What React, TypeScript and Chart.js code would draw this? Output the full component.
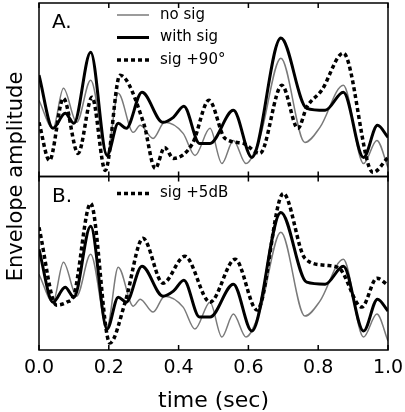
import React, { useEffect, useRef } from "react";
import { Chart, registerables } from "chart.js";

Chart.register(...registerables);

// ---- data (time in sec, envelope amplitude in arbitrary units) ----
const timeTicks = [0, 0.2, 0.4, 0.6, 0.8, 1.0];

const noSigTime = [0, 0.04, 0.07, 0.108, 0.148, 0.195, 0.227, 0.27, 0.29, 0.327, 0.36, 0.413, 0.447, 0.49, 0.524, 0.557, 0.593, 0.633, 0.693, 0.762, 0.805, 0.872, 0.93, 0.968, 1.0];
const noSigAmp = [7.6, 4.8, 8.8, 5.4, 9.6, 2.3, 8.3, 4.4, 5.1, 3.8, 5.4, 4.3, 2.1, 4.8, 1.3, 3.6, 1.3, 3.9, 11.8, 3.4, 4.9, 9.1, 1.3, 3.6, 0.9];

const withSigTime = [0, 0.04, 0.075, 0.1, 0.148, 0.195, 0.227, 0.25, 0.295, 0.355, 0.385, 0.415, 0.46, 0.49, 0.557, 0.61, 0.693, 0.767, 0.82, 0.872, 0.93, 0.97, 1.0];
const withSigAmp = [10.1, 4.8, 6.3, 5.3, 12.4, 2.1, 5.3, 4.8, 8.4, 5.4, 5.9, 7.0, 3.3, 3.3, 6.6, 1.9, 13.8, 6.8, 6.6, 8.4, 1.9, 5.1, 3.9];

const sig90Time = [0, 0.03, 0.07, 0.112, 0.152, 0.19, 0.232, 0.3, 0.333, 0.36, 0.385, 0.44, 0.487, 0.533, 0.585, 0.633, 0.696, 0.742, 0.767, 0.81, 0.872, 0.957, 1.0];
const sig90Amp = [5.4, 1.6, 7.8, 2.3, 7.9, 0.6, 10.1, 5.3, 0.8, 2.9, 1.8, 3.3, 7.6, 3.8, 3.3, 2.3, 9.1, 4.8, 6.9, 8.6, 12.3, 0.4, 1.9];

const sig5dBTime = [0, 0.05, 0.08, 0.1, 0.148, 0.203, 0.247, 0.298, 0.355, 0.418, 0.49, 0.562, 0.625, 0.7, 0.762, 0.82, 0.86, 0.925, 0.968, 1.0];
const sig5dBAmp = [12.3, 4.5, 4.8, 5.5, 14.7, 0.7, 4.8, 11.2, 6.7, 9.4, 4.8, 9.1, 4.0, 15.7, 9.2, 8.5, 8.2, 4.3, 7.2, 6.5];

const legendA = ["no sig", "with sig", "sig +90°"];
const legendB = ["sig +5dB"];
const panelLabels = ["A.", "B."];

const FONT = "'DejaVu Sans', sans-serif";
const GRAY = "#7a7a7a";

const pts = (t: number[], v: number[]) => t.map((x, i) => ({ x, y: v[i] }));

const styleNoSig = { borderColor: GRAY, borderWidth: 1.5, borderDash: [] as number[] };
const styleWithSig = { borderColor: "#000", borderWidth: 3, borderDash: [] as number[] };
const styleDotted = { borderColor: "#000", borderWidth: 3.5, borderDash: [4, 3] };

const framePlugin = {
  id: "frame",
  afterDatasetsDraw(chart: any) {
    const ctx = chart.ctx;
    const area = chart.chartArea;
    const x = chart.scales.x;
    const panels = [chart.scales.yA, chart.scales.yB];
    ctx.save();
    ctx.strokeStyle = "#000";
    ctx.lineWidth = 1.5;
    ctx.setLineDash([]);
    panels.forEach((s: any) => {
      ctx.strokeRect(area.left, s.top, area.right - area.left, s.bottom - s.top);
      timeTicks.forEach((t) => {
        const px = x.getPixelForValue(t);
        ctx.beginPath();
        ctx.moveTo(px, s.top);
        ctx.lineTo(px, s.top + 5);
        ctx.moveTo(px, s.bottom);
        ctx.lineTo(px, s.bottom - 5);
        ctx.stroke();
      });
    });
    // panel labels
    ctx.fillStyle = "#000";
    ctx.font = `20px ${FONT}`;
    ctx.textBaseline = "middle";
    ctx.textAlign = "left";
    panels.forEach((s: any, i: number) => {
      ctx.fillText(panelLabels[i], area.left + 13, s.top + 20);
    });
    // legends
    const drawLegend = (s: any, labels: string[], styles: any[], offset: number) => {
      labels.forEach((lab, i) => {
        const yy = s.top + offset + i * 22.5;
        const st = styles[i];
        ctx.save();
        ctx.strokeStyle = st.borderColor;
        ctx.lineWidth = st.borderWidth;
        ctx.setLineDash(st.borderDash);
        ctx.beginPath();
        ctx.moveTo(area.left + 78, yy);
        ctx.lineTo(area.left + 110, yy);
        ctx.stroke();
        ctx.restore();
        ctx.font = `15px ${FONT}`;
        ctx.fillStyle = "#000";
        ctx.fillText(lab, area.left + 121, yy);
      });
    };
    drawLegend(panels[0], legendA, [styleNoSig, styleWithSig, styleDotted], 12);
    drawLegend(panels[1], legendB, [styleDotted], 17);
    // y title spanning both panels
    ctx.save();
    ctx.translate(17, (area.top + area.bottom) / 2);
    ctx.rotate(-Math.PI / 2);
    ctx.textAlign = "center";
    ctx.textBaseline = "middle";
    ctx.font = `21px ${FONT}`;
    ctx.fillText("Envelope amplitude", 0, 0);
    ctx.restore();
    ctx.restore();
  },
};

export default function App() {
  const ref = useRef<HTMLCanvasElement | null>(null);
  useEffect(() => {
    if (!ref.current) return;
    const line = (label: string, data: any, yAxisID: string, st: any, order: number) => ({
      label,
      data,
      yAxisID,
      borderColor: st.borderColor,
      borderWidth: st.borderWidth,
      borderDash: st.borderDash,
      pointRadius: 0,
      fill: false,
      cubicInterpolationMode: "monotone" as const,
      order,
    });
    const chart = new Chart(ref.current, {
      type: "line",
      data: {
        datasets: [
          line("no sig", pts(noSigTime, noSigAmp), "yA", styleNoSig, 2),
          line("with sig", pts(withSigTime, withSigAmp), "yA", styleWithSig, 1),
          line("sig +90°", pts(sig90Time, sig90Amp), "yA", styleDotted, 0),
          line("no sig", pts(noSigTime, noSigAmp), "yB", styleNoSig, 2),
          line("with sig", pts(withSigTime, withSigAmp), "yB", styleWithSig, 1),
          line("sig +5dB", pts(sig5dBTime, sig5dBAmp), "yB", styleDotted, 0),
        ],
      },
      options: {
        animation: false,
        responsive: false,
        maintainAspectRatio: false,
        layout: { padding: { left: 39, right: 17, top: 3, bottom: 0 } },
        plugins: { legend: { display: false }, tooltip: { enabled: false } },
        scales: {
          x: {
            type: "linear",
            min: 0,
            max: 1,
            afterBuildTicks: (s: any) => {
              s.ticks = timeTicks.map((v) => ({ value: v }));
            },
            ticks: {
              callback: (v: any) => Number(v).toFixed(1),
              font: { family: FONT, size: 19 },
              color: "#000",
              padding: 7,
              maxRotation: 0,
            },
            grid: { display: false, drawTicks: false },
            border: { display: false },
            title: {
              display: true,
              text: "time (sec)",
              font: { family: FONT, size: 22 },
              color: "#000",
              padding: { top: 0, bottom: -2 },
            },
            afterFit: (s: any) => {
              s.height = 62;
              s.paddingLeft = 0;
              s.paddingRight = 0;
            },
          },
          yB: {
            type: "linear",
            position: "left",
            stack: "env",
            stackWeight: 1,
            weight: 1,
            min: 0,
            max: 17.4,
            ticks: { display: false },
            grid: { display: false, drawTicks: false },
            border: { display: false },
          },
          yA: {
            type: "linear",
            position: "left",
            stack: "env",
            stackWeight: 1,
            weight: 2,
            min: 0,
            max: 17.3,
            ticks: { display: false },
            grid: { display: false, drawTicks: false },
            border: { display: false },
          },
        },
      } as any,
      plugins: [framePlugin],
    });
    return () => chart.destroy();
  }, []);
  return (
    <div style={{ position: "fixed", left: 0, top: 0, width: 405, height: 412, background: "#fff" }}>
      <canvas ref={ref} width={405} height={412} style={{ display: "block", width: 405, height: 412 }} />
    </div>
  );
}
